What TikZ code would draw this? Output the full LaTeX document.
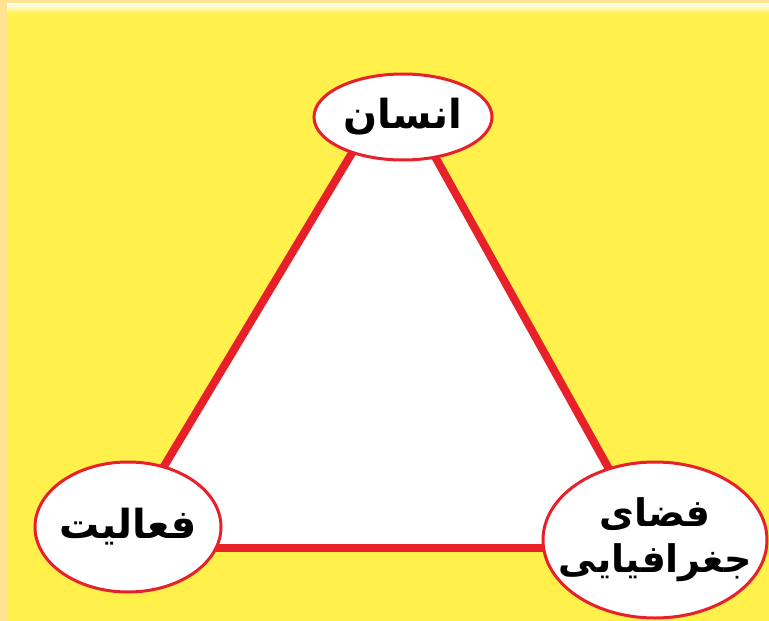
\documentclass[tikz,border=0pt]{standalone}
\usepackage{fontspec}
\usetikzlibrary{shapes.geometric}
\TeXXeTstate=1
\newfontfamily\arabicfont[Script=Arabic]{DejaVu Sans}
\definecolor{bgorange}{HTML}{FFE391}
\definecolor{bgyellow}{HTML}{FFF04B}
\definecolor{trired}{HTML}{E8202A}
\tikzset{
  vertexnode/.style={ellipse, draw=trired, line width=3pt, fill=white, inner sep=0pt},
  vlabel/.style={font=\arabicfont\bfseries\fontsize{40}{46}\selectfont, align=center, inner sep=0pt},
  edge/.style={draw=trired, line width=8pt}
}
\begin{document}
\begin{tikzpicture}[x=1pt,y=-1pt]
\useasboundingbox (0,0) rectangle (769,621);
\fill[bgorange] (0,0) rectangle (769,621);
\fill[bgyellow] (7,3) rectangle (769,621);
\shade[top color=white, bottom color=bgyellow] (7,3) rectangle (769,14);
\coordinate (A) at (394,83);
\coordinate (B) at (115,548);
\coordinate (C) at (653,548);
\fill[white] (A) -- (B) -- (C) -- cycle;
\draw[edge] (A) -- (B);
\draw[edge] (B) -- (C);
\draw[edge] (C) -- (A);
\node[vertexnode, minimum width=178, minimum height=86,
  label={[vlabel]center:\beginR انسان\endR}] (ensan) at (403,117) {};
\node[vertexnode, minimum width=186, minimum height=130,
  label={[vlabel]center:\beginR فعالیت\endR}] (faaliat) at (128,527) {};
\node[vertexnode, minimum width=224, minimum height=156,
  label={[vlabel, font=\arabicfont\bfseries\fontsize{38}{46}\selectfont]center:\beginR فضای\endR\\\beginR جغرافیایی\endR}] (faza) at (655,540) {};
\end{tikzpicture}
\end{document}
